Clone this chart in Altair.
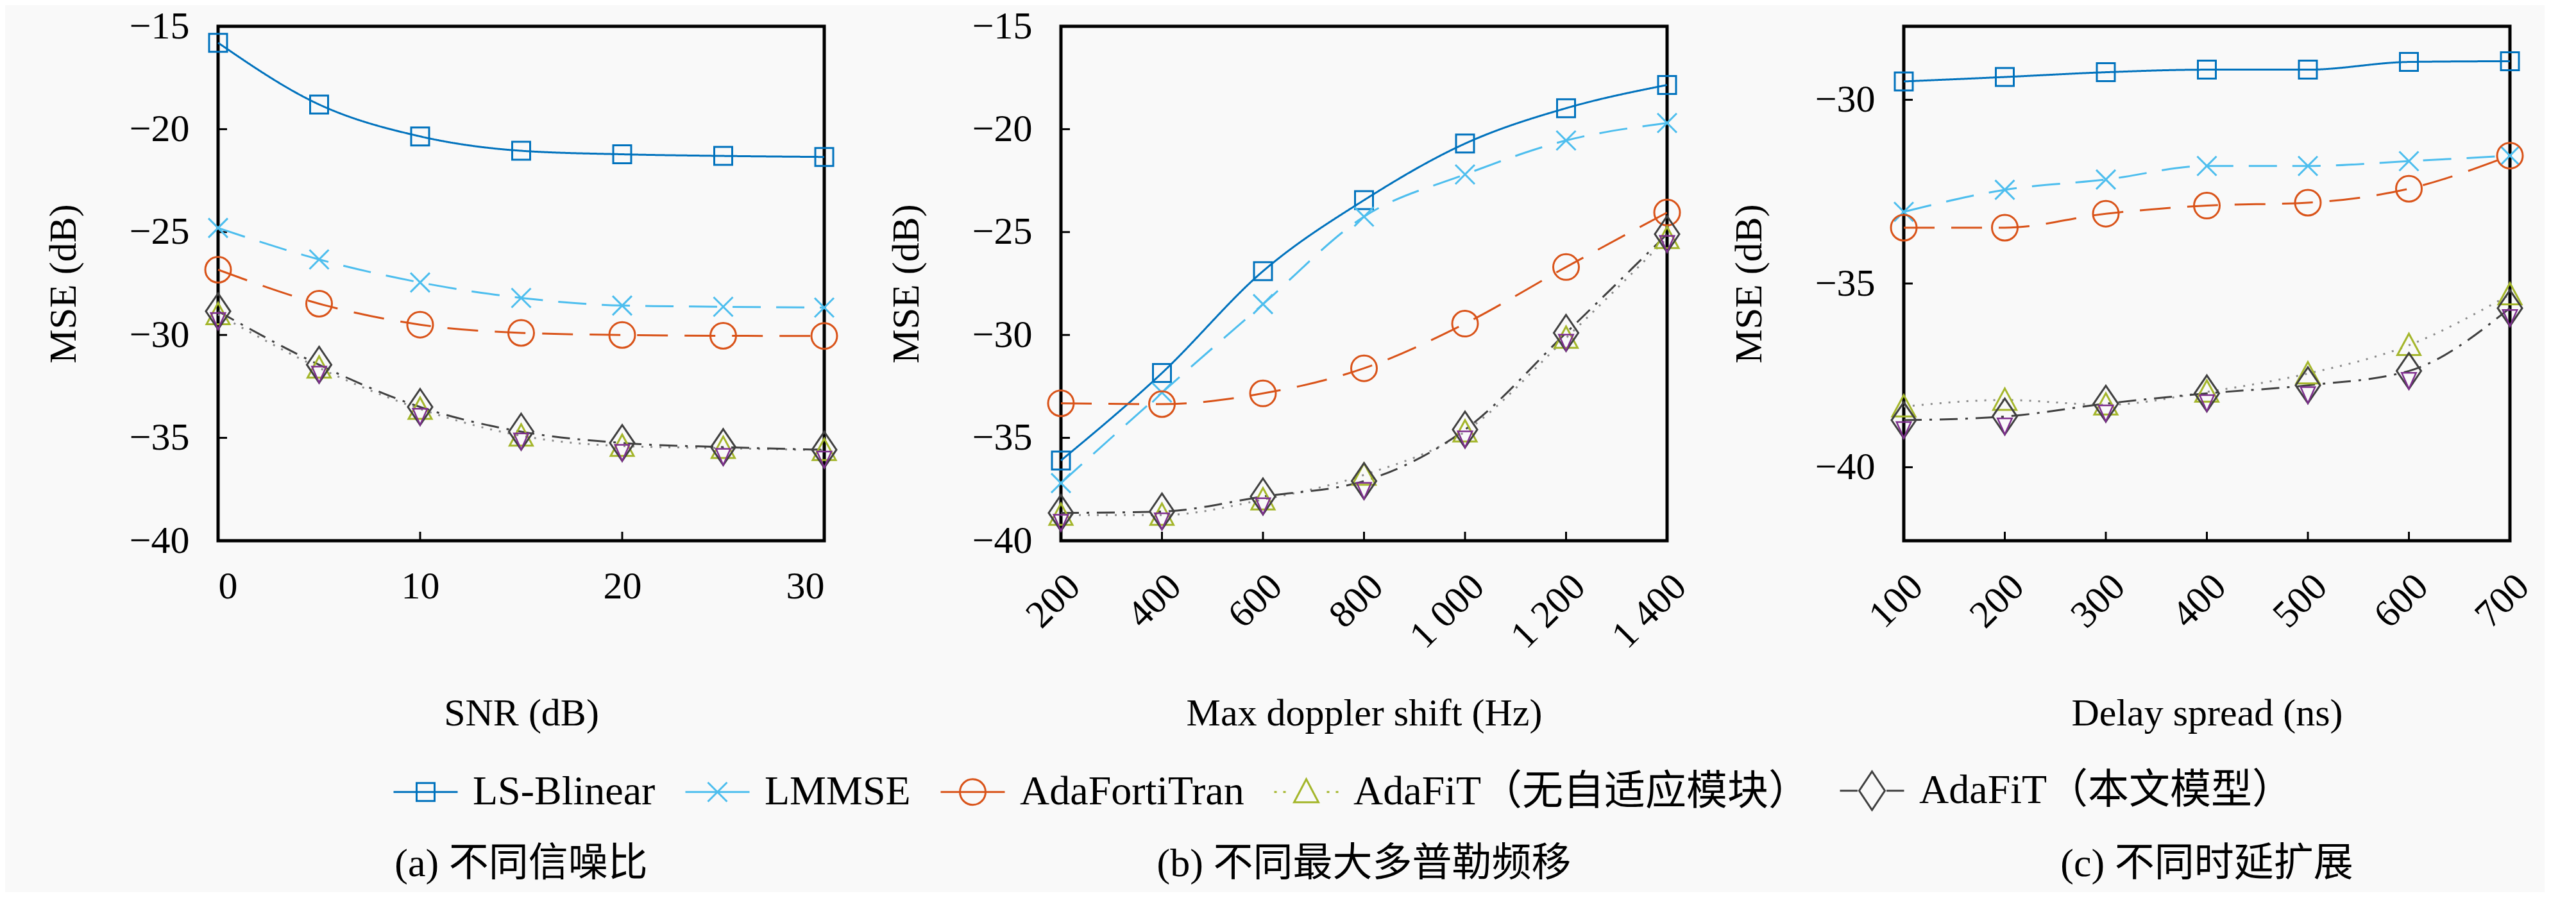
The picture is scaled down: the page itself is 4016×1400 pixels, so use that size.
import altair as alt
import pandas as pd

FONT = "'Liberation Serif', 'Noto Sans CJK SC', serif"

models = ["LS-Blinear", "LMMSE", "AdaFortiTran",
          "AdaFiT（无自适应模块）", "AdaFiT（本文模型）"]

# (a) different SNR
snr = [0, 5, 10, 15, 20, 25, 30]
snr_ls = [-15.8, -18.8, -20.35, -21.05, -21.22, -21.3, -21.35]
snr_lmmse = [-24.8, -26.33, -27.45, -28.2, -28.57, -28.63, -28.67]
snr_fortitran = [-26.83, -28.48, -29.5, -29.9, -30.0, -30.04, -30.05]
snr_noadapt = [-29.0, -31.6, -33.6, -34.9, -35.4, -35.5, -35.6]
snr_adafit = [-28.85, -31.45, -33.5, -34.7, -35.25, -35.45, -35.58]

# (b) different max doppler shift
doppler = [200, 400, 600, 800, 1000, 1200, 1400]
dop_ls = [-36.1, -31.85, -26.9, -23.45, -20.7, -18.98, -17.85]
dop_lmmse = [-37.2, -32.8, -28.5, -24.25, -22.2, -20.55, -19.7]
dop_fortitran = [-33.32, -33.36, -32.84, -31.62, -29.45, -26.7, -24.05]
dop_noadapt = [-38.75, -38.75, -38.0, -36.8, -34.7, -30.15, -25.3]
dop_adafit = [-38.65, -38.58, -37.85, -37.1, -34.6, -29.9, -25.1]

# (c) different delay spread
delay = [100, 200, 300, 400, 500, 600, 700]
del_ls = [-29.5, -29.38, -29.25, -29.18, -29.18, -28.97, -28.95]
del_lmmse = [-33.05, -32.45, -32.17, -31.8, -31.8, -31.67, -31.52]
del_fortitran = [-33.48, -33.48, -33.1, -32.88, -32.8, -32.42, -31.52]
del_noadapt = [-38.35, -38.17, -38.3, -37.95, -37.45, -36.68, -35.3]
del_adafit = [-38.72, -38.62, -38.27, -37.99, -37.77, -37.38, -35.67]

# styles
line_color = {"LS-Blinear": "#0072BD", "LMMSE": "#4DBEEE", "AdaFortiTran": "#D95319",
              "AdaFiT（无自适应模块）": "#8C8C8C", "AdaFiT（本文模型）": "#404040"}
mark_color = {"LS-Blinear": "#0072BD", "LMMSE": "#4DBEEE", "AdaFortiTran": "#D95319",
              "AdaFiT（无自适应模块）": "#A4B62B", "AdaFiT（本文模型）": "#404040"}
dashes = {"LS-Blinear": [1, 0], "LMMSE": [44, 24], "AdaFortiTran": [48, 26],
          "AdaFiT（无自适应模块）": [3, 11], "AdaFiT（本文模型）": [28, 12, 4, 12]}
shapes = {"LS-Blinear": ("square", 784),
          "LMMSE": ("M-1,-1L1,1M-1,1L1,-1", 900),
          "AdaFortiTran": ("circle", 1600),
          "AdaFiT（无自适应模块）": ("M0,-1L1,0.85L-1,0.85Z", 1296),
          "AdaFiT（本文模型）": ("M0,-1L0.68,0L0,1L-0.68,0Z", 3136)}
purple_tri = "M-0.4,0.1L0.4,0.1L0,1Z"

legend_paths = [
    "M-1,0L1,0M-0.28,-0.28L0.28,-0.28L0.28,0.28L-0.28,0.28Z",
    "M-1,0L1,0M-0.3,-0.3L0.3,0.3M-0.3,0.3L0.3,-0.3",
    "M-1,0L1,0M0.4,0A0.4,0.4 0 1,1 -0.4,0A0.4,0.4 0 1,1 0.4,0",
    "M-1,0L-0.92,0M-0.72,0L-0.64,0M0.64,0L0.72,0M0.92,0L1,0M0,-0.4L0.38,0.32L-0.38,0.32Z",
    "M-1,0L-0.45,0M0.45,0L1,0M0,-0.6L0.4,0L0,0.6L-0.4,0Z",
]


def make_df(xs, series):
    rows = []
    for m, vals in zip(models, series):
        for x, v in zip(xs, vals):
            rows.append({"x": x, "mse": v, "model": m})
    return pd.DataFrame(rows)


W, H = 945, 802
TICK = 14


def panel(df, xdom, xvals, ydom, yvals, xtitle, caption, rotate, with_legend=False):
    if rotate:
        xaxis = alt.Axis(values=xvals, title=xtitle, grid=False, domain=False, ticks=False,
                         labelAngle=-45, labelAlign="right", labelBaseline="middle",
                         labelPadding=62, labelOffset=20,
                         labelExpr="replace(format(datum.value, ','), ',', ' ')",
                         titleY=269, titleBaseline="middle")
    else:
        xaxis = alt.Axis(values=xvals, title=xtitle, grid=False, domain=False, ticks=False,
                         labelAngle=0, labelPadding=42, titleY=269, titleBaseline="middle")
    yaxis = alt.Axis(values=yvals, title="MSE (dB)", grid=False, domain=False, ticks=False,
                     labelPadding=45, titleX=-241, titleY=H / 2, titleBaseline="middle",
                     titleAlign="center")
    xscale = alt.Scale(domain=xdom, nice=False, zero=False)
    yscale = alt.Scale(domain=ydom, nice=False, zero=False)
    base = alt.Chart(df).encode(
        x=alt.X("x:Q", scale=xscale, axis=xaxis),
        y=alt.Y("mse:Q", scale=yscale, axis=yaxis),
    )
    # inward tick marks
    xticks = alt.Chart(pd.DataFrame({"x": xvals})).mark_rule(
        color="black", strokeWidth=3).encode(
        x=alt.X("x:Q", scale=xscale, axis=xaxis),
        y=alt.value(H), y2=alt.value(H - TICK))
    yticks = alt.Chart(pd.DataFrame({"mse": yvals})).mark_rule(
        color="black", strokeWidth=3).encode(
        y=alt.Y("mse:Q", scale=yscale, axis=yaxis),
        x=alt.value(0), x2=alt.value(TICK))
    layers = [xticks, yticks]
    for m in models:
        sub = base.transform_filter(alt.datum.model == m)
        layers.append(sub.mark_line(color=line_color[m], strokeDash=dashes[m],
                                    strokeWidth=3, interpolate="monotone"))
    for m in models:
        sub = base.transform_filter(alt.datum.model == m)
        shp, size = shapes[m]
        layers.append(sub.mark_point(shape=shp, size=size, color=mark_color[m],
                                     filled=False, strokeWidth=3, opacity=1))
        if m == "AdaFiT（本文模型）":
            layers.append(sub.mark_point(shape=purple_tri, size=size, color="#7E2F8E",
                                         filled=False, strokeWidth=2.5, opacity=1))
    if with_legend:
        leg = alt.Legend(title=None, orient="none", legendX=272, legendY=1140,
                         direction="horizontal", symbolSize=10000, symbolStrokeWidth=3,
                         symbolOpacity=1, symbolFillColor="transparent",
                         labelFont=FONT, labelFontSize=64, labelColor="black",
                         labelLimit=1200, labelOffset=22, columnPadding=40, padding=0)
        dummy = alt.Chart(pd.DataFrame({"model": models})).mark_point(
            opacity=0, filled=False).encode(
            shape=alt.Shape("model:N", scale=alt.Scale(domain=models, range=legend_paths),
                            sort=models, legend=leg),
            stroke=alt.Stroke("model:N", scale=alt.Scale(
                domain=models, range=[mark_color[m] for m in models]),
                sort=models, legend=leg),
        )
        layers.append(dummy)
    return alt.layer(*layers).properties(
        width=W, height=H,
        title=alt.TitleParams(caption, orient="bottom", offset=175, fontSize=62, font=FONT,
                              fontWeight="normal", color="black", anchor="middle"),
    )


pa = panel(make_df(snr, [snr_ls, snr_lmmse, snr_fortitran, snr_noadapt, snr_adafit]),
           [0, 30], [0, 10, 20, 30], [-40, -15], [-40, -35, -30, -25, -20, -15],
           "SNR (dB)", "(a) 不同信噪比", False, with_legend=True)
pb = panel(make_df(doppler, [dop_ls, dop_lmmse, dop_fortitran, dop_noadapt, dop_adafit]),
           [200, 1400], doppler, [-40, -15], [-40, -35, -30, -25, -20, -15],
           "Max doppler shift (Hz)", "(b) 不同最大多普勒频移", True)
pc = panel(make_df(delay, [del_ls, del_lmmse, del_fortitran, del_noadapt, del_adafit]),
           [100, 700], delay, [-42, -28], [-40, -35, -30],
           "Delay spread (ns)", "(c) 不同时延扩展", True)

chart = alt.hconcat(pa, pb, pc, spacing=369, bounds="flush").properties(
    background="#f9f9f9",
    padding={"left": 58, "top": 0, "right": 10, "bottom": 10},
).configure_view(
    stroke="black", strokeWidth=5, fill="#f9f9f9"
).configure_axis(
    labelFont=FONT, titleFont=FONT, labelFontSize=60, titleFontSize=60,
    labelColor="black", titleColor="black", titleFontWeight="normal",
)

chart.save("out.html", embed_options={"renderer": "svg", "actions": False})
